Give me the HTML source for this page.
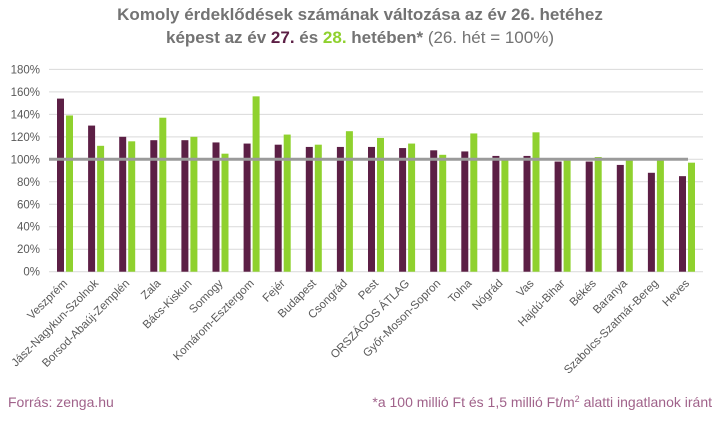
<!DOCTYPE html>
<html><head><meta charset="utf-8"><style>
body{margin:0;background:#fff;width:720px;height:418px;overflow:hidden;font-family:"Liberation Sans",sans-serif}
</style></head><body>
<svg width="720" height="418" xmlns="http://www.w3.org/2000/svg" font-family="Liberation Sans, sans-serif">
<text x="360" y="20" text-anchor="middle" font-size="17" font-weight="bold" fill="#737373">Komoly érdeklődések számának változása az év 26. hetéhez</text>
<text x="360" y="43" text-anchor="middle" font-size="17" fill="#737373"><tspan font-weight="bold">képest az év </tspan><tspan font-weight="bold" fill="#5c1f45">27.</tspan><tspan font-weight="bold"> és </tspan><tspan font-weight="bold" fill="#8fd12e">28.</tspan><tspan font-weight="bold"> hetében*</tspan> (26. hét = 100%)</text>
<g id="grid" stroke="#d9d9d9" stroke-width="1"></g>
<g id="bars"></g>
<g id="labels" font-size="11.5" fill="#595959"></g>
<text x="8" y="407" font-size="14" fill="#a0628a">Forrás: zenga.hu</text>
<text x="712" y="407" text-anchor="end" font-size="14" fill="#a0628a">*a 100 millió Ft és 1,5 millió Ft/m<tspan font-size="9" dy="-5">2</tspan><tspan dy="5"> alatti ingatlanok iránt</tspan></text>
<script>
var ns="http://www.w3.org/2000/svg";
function el(p,t,a,txt){var e=document.createElementNS(ns,t);for(var k in a)e.setAttribute(k,a[k]);if(txt)e.textContent=txt;document.getElementById(p).appendChild(e);return e;}
var y0=271.7,sc=1.124;
for(var i=0;i<=9;i++){var y=y0-i*20*sc;el("grid","line",{x1:49,x2:703,y1:y,y2:y});
el("labels","text",{x:40,y:y+4,"text-anchor":"end"},(i*20)+"%");}
var d=[["Veszprém",154,139],["Jász-Nagykun-Szolnok",130,112],["Borsod-Abaúj-Zemplén",120,116],["Zala",117,137],["Bács-Kiskun",117,120],["Somogy",115,105],["Komárom-Esztergom",114,156],["Fejér",113,122],["Budapest",111,113],["Csongrád",111,125],["Pest",111,119],["ORSZÁGOS ÁTLAG",110,114],["Győr-Moson-Sopron",108,104],["Tolna",107,123],["Nógrád",103,99],["Vas",103,124],["Hajdú-Bihar",98,100],["Békés",98,102],["Baranya",95,99],["Szabolcs-Szatmár-Bereg",88,101],["Heves",85,97]];
d.forEach(function(r,i){var x=57+31.1*i;
el("bars","rect",{x:x,y:y0-r[1]*sc,width:7,height:r[1]*sc,fill:"#5c1f45"});
el("bars","rect",{x:x+9,y:y0-r[2]*sc,width:7,height:r[2]*sc,fill:"#8fd12e"});
var cx=x+11,cy=284;
el("labels","text",{x:cx,y:cy,"text-anchor":"end",transform:"rotate(-45 "+cx+" "+cy+")"},r[0]);});
el("bars","line",{x1:49,x2:688,y1:y0-100*sc,y2:y0-100*sc,stroke:"#9a9a9a","stroke-width":3});
</script>
</svg>
</body></html>
